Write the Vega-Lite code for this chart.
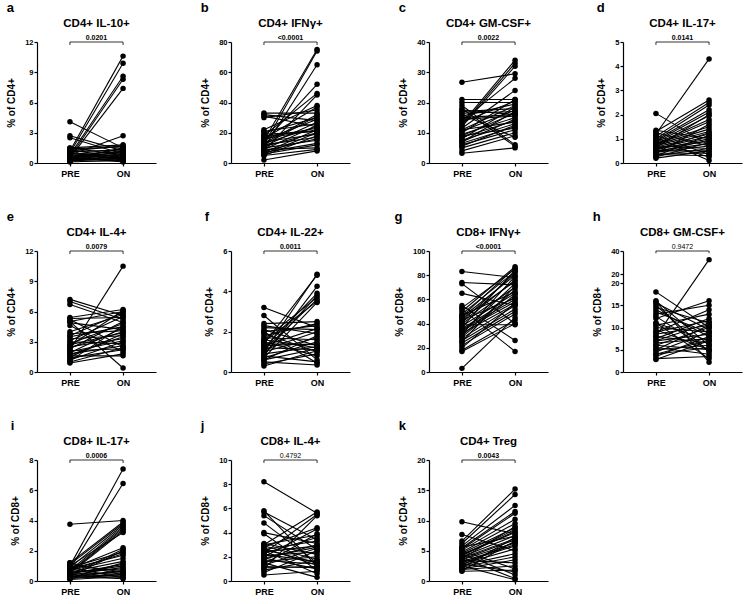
{
"$schema": "https://vega.github.io/schema/vega-lite/v6.json",
"padding": {"left": 6, "top": 1, "right": 2, "bottom": 0},
"columns": 4,
"spacing": {"row": 32, "column": 44},
"datasets": {
"a": [{"s":1,"t":"PRE","v":1.2},{"s":1,"t":"ON","v":10.6},{"s":2,"t":"PRE","v":1.0},{"s":2,"t":"ON","v":9.9},{"s":3,"t":"PRE","v":0.8},{"s":3,"t":"ON","v":8.6},{"s":4,"t":"PRE","v":0.6},{"s":4,"t":"ON","v":8.3},{"s":5,"t":"PRE","v":0.5},{"s":5,"t":"ON","v":7.4},{"s":6,"t":"PRE","v":4.1},{"s":6,"t":"ON","v":1.5},{"s":7,"t":"PRE","v":2.7},{"s":7,"t":"ON","v":1.2},{"s":8,"t":"PRE","v":2.5},{"s":8,"t":"ON","v":0.9},{"s":9,"t":"PRE","v":0.8},{"s":9,"t":"ON","v":2.7},{"s":10,"t":"PRE","v":1.5},{"s":10,"t":"ON","v":1.8},{"s":11,"t":"PRE","v":1.4},{"s":11,"t":"ON","v":1.6},{"s":12,"t":"PRE","v":1.3},{"s":12,"t":"ON","v":0.5},{"s":13,"t":"PRE","v":1.1},{"s":13,"t":"ON","v":1.3},{"s":14,"t":"PRE","v":1.0},{"s":14,"t":"ON","v":0.3},{"s":15,"t":"PRE","v":0.9},{"s":15,"t":"ON","v":1.1},{"s":16,"t":"PRE","v":0.9},{"s":16,"t":"ON","v":0.7},{"s":17,"t":"PRE","v":0.8},{"s":17,"t":"ON","v":0.4},{"s":18,"t":"PRE","v":0.7},{"s":18,"t":"ON","v":1.0},{"s":19,"t":"PRE","v":0.7},{"s":19,"t":"ON","v":0.6},{"s":20,"t":"PRE","v":0.6},{"s":20,"t":"ON","v":0.9},{"s":21,"t":"PRE","v":0.6},{"s":21,"t":"ON","v":0.2},{"s":22,"t":"PRE","v":0.5},{"s":22,"t":"ON","v":1.4},{"s":23,"t":"PRE","v":0.5},{"s":23,"t":"ON","v":0.5},{"s":24,"t":"PRE","v":0.4},{"s":24,"t":"ON","v":0.8},{"s":25,"t":"PRE","v":0.4},{"s":25,"t":"ON","v":0.3},{"s":26,"t":"PRE","v":0.3},{"s":26,"t":"ON","v":0.6},{"s":27,"t":"PRE","v":0.3},{"s":27,"t":"ON","v":1.2},{"s":28,"t":"PRE","v":0.3},{"s":28,"t":"ON","v":0.4},{"s":29,"t":"PRE","v":0.2},{"s":29,"t":"ON","v":0.7},{"s":30,"t":"PRE","v":0.2},{"s":30,"t":"ON","v":0.2},{"s":31,"t":"PRE","v":0.2},{"s":31,"t":"ON","v":0.5},{"s":32,"t":"PRE","v":0.1},{"s":32,"t":"ON","v":0.3},{"s":33,"t":"PRE","v":1.5},{"s":33,"t":"ON","v":0.8},{"s":34,"t":"PRE","v":1.2},{"s":34,"t":"ON","v":1.7},{"s":35,"t":"PRE","v":0.6},{"s":35,"t":"ON","v":0.1},{"s":36,"t":"PRE","v":0.4},{"s":36,"t":"ON","v":1.5}],
"b": [{"s":1,"t":"PRE","v":15},{"s":1,"t":"ON","v":75},{"s":2,"t":"PRE","v":12},{"s":2,"t":"ON","v":74},{"s":3,"t":"PRE","v":10},{"s":3,"t":"ON","v":65},{"s":4,"t":"PRE","v":14},{"s":4,"t":"ON","v":52},{"s":5,"t":"PRE","v":18},{"s":5,"t":"ON","v":46},{"s":6,"t":"PRE","v":8},{"s":6,"t":"ON","v":45},{"s":7,"t":"PRE","v":22},{"s":7,"t":"ON","v":38},{"s":8,"t":"PRE","v":16},{"s":8,"t":"ON","v":37},{"s":9,"t":"PRE","v":33},{"s":9,"t":"ON","v":33},{"s":10,"t":"PRE","v":32},{"s":10,"t":"ON","v":28},{"s":11,"t":"PRE","v":31},{"s":11,"t":"ON","v":24},{"s":12,"t":"PRE","v":30},{"s":12,"t":"ON","v":35},{"s":13,"t":"PRE","v":20},{"s":13,"t":"ON","v":30},{"s":14,"t":"PRE","v":13},{"s":14,"t":"ON","v":32},{"s":15,"t":"PRE","v":11},{"s":15,"t":"ON","v":27},{"s":16,"t":"PRE","v":9},{"s":16,"t":"ON","v":25},{"s":17,"t":"PRE","v":7},{"s":17,"t":"ON","v":22},{"s":18,"t":"PRE","v":6},{"s":18,"t":"ON","v":20},{"s":19,"t":"PRE","v":5},{"s":19,"t":"ON","v":18},{"s":20,"t":"PRE","v":2},{"s":20,"t":"ON","v":8},{"s":21,"t":"PRE","v":17},{"s":21,"t":"ON","v":23},{"s":22,"t":"PRE","v":19},{"s":22,"t":"ON","v":21},{"s":23,"t":"PRE","v":21},{"s":23,"t":"ON","v":26},{"s":24,"t":"PRE","v":12},{"s":24,"t":"ON","v":17},{"s":25,"t":"PRE","v":14},{"s":25,"t":"ON","v":19},{"s":26,"t":"PRE","v":10},{"s":26,"t":"ON","v":15},{"s":27,"t":"PRE","v":8},{"s":27,"t":"ON","v":16},{"s":28,"t":"PRE","v":6},{"s":28,"t":"ON","v":12},{"s":29,"t":"PRE","v":15},{"s":29,"t":"ON","v":29},{"s":30,"t":"PRE","v":9},{"s":30,"t":"ON","v":10},{"s":31,"t":"PRE","v":11},{"s":31,"t":"ON","v":20},{"s":32,"t":"PRE","v":13},{"s":32,"t":"ON","v":24},{"s":33,"t":"PRE","v":16},{"s":33,"t":"ON","v":22},{"s":34,"t":"PRE","v":7},{"s":34,"t":"ON","v":13},{"s":35,"t":"PRE","v":12},{"s":35,"t":"ON","v":31},{"s":36,"t":"PRE","v":18},{"s":36,"t":"ON","v":21},{"s":37,"t":"PRE","v":5},{"s":37,"t":"ON","v":9}],
"c": [{"s":1,"t":"PRE","v":26.7},{"s":1,"t":"ON","v":29.5},{"s":2,"t":"PRE","v":21},{"s":2,"t":"ON","v":21},{"s":3,"t":"PRE","v":20},{"s":3,"t":"ON","v":20},{"s":4,"t":"PRE","v":19},{"s":4,"t":"ON","v":6},{"s":5,"t":"PRE","v":18},{"s":5,"t":"ON","v":5.5},{"s":6,"t":"PRE","v":17},{"s":6,"t":"ON","v":18},{"s":7,"t":"PRE","v":16.5},{"s":7,"t":"ON","v":17},{"s":8,"t":"PRE","v":16},{"s":8,"t":"ON","v":8.5},{"s":9,"t":"PRE","v":15},{"s":9,"t":"ON","v":16},{"s":10,"t":"PRE","v":14},{"s":10,"t":"ON","v":28},{"s":11,"t":"PRE","v":13},{"s":11,"t":"ON","v":34},{"s":12,"t":"PRE","v":12.5},{"s":12,"t":"ON","v":33},{"s":13,"t":"PRE","v":12},{"s":13,"t":"ON","v":32},{"s":14,"t":"PRE","v":11.5},{"s":14,"t":"ON","v":24},{"s":15,"t":"PRE","v":11},{"s":15,"t":"ON","v":19},{"s":16,"t":"PRE","v":10.5},{"s":16,"t":"ON","v":17.5},{"s":17,"t":"PRE","v":10},{"s":17,"t":"ON","v":21},{"s":18,"t":"PRE","v":9.5},{"s":18,"t":"ON","v":15},{"s":19,"t":"PRE","v":9},{"s":19,"t":"ON","v":16.5},{"s":20,"t":"PRE","v":8.5},{"s":20,"t":"ON","v":14},{"s":21,"t":"PRE","v":8},{"s":21,"t":"ON","v":18.5},{"s":22,"t":"PRE","v":7.5},{"s":22,"t":"ON","v":13},{"s":23,"t":"PRE","v":7},{"s":23,"t":"ON","v":14.5},{"s":24,"t":"PRE","v":6.5},{"s":24,"t":"ON","v":12},{"s":25,"t":"PRE","v":6},{"s":25,"t":"ON","v":11},{"s":26,"t":"PRE","v":5.5},{"s":26,"t":"ON","v":12.5},{"s":27,"t":"PRE","v":5},{"s":27,"t":"ON","v":10},{"s":28,"t":"PRE","v":4},{"s":28,"t":"ON","v":9},{"s":29,"t":"PRE","v":3.2},{"s":29,"t":"ON","v":5},{"s":30,"t":"PRE","v":13.5},{"s":30,"t":"ON","v":20.5},{"s":31,"t":"PRE","v":15.5},{"s":31,"t":"ON","v":19.5},{"s":32,"t":"PRE","v":17.5},{"s":32,"t":"ON","v":16},{"s":33,"t":"PRE","v":14.5},{"s":33,"t":"ON","v":15.5},{"s":34,"t":"PRE","v":11},{"s":34,"t":"ON","v":13.5},{"s":35,"t":"PRE","v":9},{"s":35,"t":"ON","v":11.5},{"s":36,"t":"PRE","v":7},{"s":36,"t":"ON","v":17}],
"d": [{"s":1,"t":"PRE","v":1.2},{"s":1,"t":"ON","v":4.3},{"s":2,"t":"PRE","v":2.05},{"s":2,"t":"ON","v":0.75},{"s":3,"t":"PRE","v":1.35},{"s":3,"t":"ON","v":1.0},{"s":4,"t":"PRE","v":1.3},{"s":4,"t":"ON","v":2.6},{"s":5,"t":"PRE","v":1.1},{"s":5,"t":"ON","v":2.5},{"s":6,"t":"PRE","v":1.0},{"s":6,"t":"ON","v":2.4},{"s":7,"t":"PRE","v":0.95},{"s":7,"t":"ON","v":2.2},{"s":8,"t":"PRE","v":0.9},{"s":8,"t":"ON","v":2.1},{"s":9,"t":"PRE","v":0.85},{"s":9,"t":"ON","v":1.95},{"s":10,"t":"PRE","v":0.8},{"s":10,"t":"ON","v":1.8},{"s":11,"t":"PRE","v":0.8},{"s":11,"t":"ON","v":1.5},{"s":12,"t":"PRE","v":0.75},{"s":12,"t":"ON","v":1.4},{"s":13,"t":"PRE","v":0.7},{"s":13,"t":"ON","v":1.3},{"s":14,"t":"PRE","v":0.7},{"s":14,"t":"ON","v":0.6},{"s":15,"t":"PRE","v":0.65},{"s":15,"t":"ON","v":1.2},{"s":16,"t":"PRE","v":0.6},{"s":16,"t":"ON","v":1.1},{"s":17,"t":"PRE","v":0.6},{"s":17,"t":"ON","v":0.9},{"s":18,"t":"PRE","v":0.55},{"s":18,"t":"ON","v":1.0},{"s":19,"t":"PRE","v":0.5},{"s":19,"t":"ON","v":0.8},{"s":20,"t":"PRE","v":0.5},{"s":20,"t":"ON","v":0.5},{"s":21,"t":"PRE","v":0.45},{"s":21,"t":"ON","v":0.7},{"s":22,"t":"PRE","v":0.4},{"s":22,"t":"ON","v":1.6},{"s":23,"t":"PRE","v":0.4},{"s":23,"t":"ON","v":0.4},{"s":24,"t":"PRE","v":0.35},{"s":24,"t":"ON","v":0.3},{"s":25,"t":"PRE","v":0.3},{"s":25,"t":"ON","v":0.6},{"s":26,"t":"PRE","v":0.25},{"s":26,"t":"ON","v":0.85},{"s":27,"t":"PRE","v":0.2},{"s":27,"t":"ON","v":0.5},{"s":28,"t":"PRE","v":1.15},{"s":28,"t":"ON","v":0.35},{"s":29,"t":"PRE","v":1.05},{"s":29,"t":"ON","v":0.1},{"s":30,"t":"PRE","v":0.9},{"s":30,"t":"ON","v":0.25},{"s":31,"t":"PRE","v":0.75},{"s":31,"t":"ON","v":1.7},{"s":32,"t":"PRE","v":0.65},{"s":32,"t":"ON","v":2.0},{"s":33,"t":"PRE","v":0.55},{"s":33,"t":"ON","v":1.25},{"s":34,"t":"PRE","v":0.3},{"s":34,"t":"ON","v":1.15},{"s":35,"t":"PRE","v":1.25},{"s":35,"t":"ON","v":0.7},{"s":36,"t":"PRE","v":0.45},{"s":36,"t":"ON","v":0.95}],
"e": [{"s":1,"t":"PRE","v":2.2},{"s":1,"t":"ON","v":10.5},{"s":2,"t":"PRE","v":5.0},{"s":2,"t":"ON","v":0.4},{"s":3,"t":"PRE","v":7.2},{"s":3,"t":"ON","v":5.6},{"s":4,"t":"PRE","v":7.0},{"s":4,"t":"ON","v":5.2},{"s":5,"t":"PRE","v":6.7},{"s":5,"t":"ON","v":4.9},{"s":6,"t":"PRE","v":5.4},{"s":6,"t":"ON","v":6.2},{"s":7,"t":"PRE","v":5.3},{"s":7,"t":"ON","v":5.4},{"s":8,"t":"PRE","v":5.2},{"s":8,"t":"ON","v":2.5},{"s":9,"t":"PRE","v":5.0},{"s":9,"t":"ON","v":6.0},{"s":10,"t":"PRE","v":4.9},{"s":10,"t":"ON","v":4.2},{"s":11,"t":"PRE","v":4.6},{"s":11,"t":"ON","v":2.0},{"s":12,"t":"PRE","v":3.6},{"s":12,"t":"ON","v":5.9},{"s":13,"t":"PRE","v":3.5},{"s":13,"t":"ON","v":4.5},{"s":14,"t":"PRE","v":3.3},{"s":14,"t":"ON","v":3.6},{"s":15,"t":"PRE","v":3.1},{"s":15,"t":"ON","v":5.5},{"s":16,"t":"PRE","v":3.0},{"s":16,"t":"ON","v":2.8},{"s":17,"t":"PRE","v":2.8},{"s":17,"t":"ON","v":4.8},{"s":18,"t":"PRE","v":2.7},{"s":18,"t":"ON","v":3.9},{"s":19,"t":"PRE","v":2.6},{"s":19,"t":"ON","v":6.1},{"s":20,"t":"PRE","v":2.5},{"s":20,"t":"ON","v":3.3},{"s":21,"t":"PRE","v":2.4},{"s":21,"t":"ON","v":4.0},{"s":22,"t":"PRE","v":2.3},{"s":22,"t":"ON","v":5.0},{"s":23,"t":"PRE","v":2.1},{"s":23,"t":"ON","v":2.3},{"s":24,"t":"PRE","v":2.0},{"s":24,"t":"ON","v":3.1},{"s":25,"t":"PRE","v":1.9},{"s":25,"t":"ON","v":4.4},{"s":26,"t":"PRE","v":1.8},{"s":26,"t":"ON","v":2.6},{"s":27,"t":"PRE","v":1.7},{"s":27,"t":"ON","v":3.5},{"s":28,"t":"PRE","v":1.6},{"s":28,"t":"ON","v":1.6},{"s":29,"t":"PRE","v":1.5},{"s":29,"t":"ON","v":3.8},{"s":30,"t":"PRE","v":1.4},{"s":30,"t":"ON","v":2.2},{"s":31,"t":"PRE","v":1.2},{"s":31,"t":"ON","v":3.0},{"s":32,"t":"PRE","v":1.1},{"s":32,"t":"ON","v":4.6},{"s":33,"t":"PRE","v":1.0},{"s":33,"t":"ON","v":2.4},{"s":34,"t":"PRE","v":0.9},{"s":34,"t":"ON","v":1.8},{"s":35,"t":"PRE","v":4.0},{"s":35,"t":"ON","v":5.7},{"s":36,"t":"PRE","v":3.8},{"s":36,"t":"ON","v":4.1}],
"f": [{"s":1,"t":"PRE","v":1.0},{"s":1,"t":"ON","v":4.85},{"s":2,"t":"PRE","v":1.4},{"s":2,"t":"ON","v":4.8},{"s":3,"t":"PRE","v":0.8},{"s":3,"t":"ON","v":4.25},{"s":4,"t":"PRE","v":1.2},{"s":4,"t":"ON","v":3.9},{"s":5,"t":"PRE","v":0.9},{"s":5,"t":"ON","v":3.8},{"s":6,"t":"PRE","v":1.6},{"s":6,"t":"ON","v":3.7},{"s":7,"t":"PRE","v":1.1},{"s":7,"t":"ON","v":3.6},{"s":8,"t":"PRE","v":1.5},{"s":8,"t":"ON","v":3.5},{"s":9,"t":"PRE","v":0.7},{"s":9,"t":"ON","v":3.45},{"s":10,"t":"PRE","v":3.2},{"s":10,"t":"ON","v":2.2},{"s":11,"t":"PRE","v":2.8},{"s":11,"t":"ON","v":0.6},{"s":12,"t":"PRE","v":2.4},{"s":12,"t":"ON","v":2.5},{"s":13,"t":"PRE","v":2.3},{"s":13,"t":"ON","v":1.9},{"s":14,"t":"PRE","v":2.2},{"s":14,"t":"ON","v":2.1},{"s":15,"t":"PRE","v":2.1},{"s":15,"t":"ON","v":1.3},{"s":16,"t":"PRE","v":2.0},{"s":16,"t":"ON","v":2.3},{"s":17,"t":"PRE","v":1.9},{"s":17,"t":"ON","v":1.0},{"s":18,"t":"PRE","v":1.8},{"s":18,"t":"ON","v":2.4},{"s":19,"t":"PRE","v":1.7},{"s":19,"t":"ON","v":1.6},{"s":20,"t":"PRE","v":1.6},{"s":20,"t":"ON","v":1.2},{"s":21,"t":"PRE","v":1.5},{"s":21,"t":"ON","v":0.8},{"s":22,"t":"PRE","v":1.3},{"s":22,"t":"ON","v":1.4},{"s":23,"t":"PRE","v":1.2},{"s":23,"t":"ON","v":1.1},{"s":24,"t":"PRE","v":1.1},{"s":24,"t":"ON","v":2.0},{"s":25,"t":"PRE","v":1.0},{"s":25,"t":"ON","v":1.7},{"s":26,"t":"PRE","v":0.9},{"s":26,"t":"ON","v":1.25},{"s":27,"t":"PRE","v":0.8},{"s":27,"t":"ON","v":0.5},{"s":28,"t":"PRE","v":0.7},{"s":28,"t":"ON","v":1.5},{"s":29,"t":"PRE","v":0.6},{"s":29,"t":"ON","v":1.15},{"s":30,"t":"PRE","v":0.5},{"s":30,"t":"ON","v":0.35},{"s":31,"t":"PRE","v":0.4},{"s":31,"t":"ON","v":0.9},{"s":32,"t":"PRE","v":0.3},{"s":32,"t":"ON","v":1.05},{"s":33,"t":"PRE","v":1.3},{"s":33,"t":"ON","v":2.15},{"s":34,"t":"PRE","v":2.0},{"s":34,"t":"ON","v":0.45},{"s":35,"t":"PRE","v":0.6},{"s":35,"t":"ON","v":1.8},{"s":36,"t":"PRE","v":1.4},{"s":36,"t":"ON","v":1.35}],
"g": [{"s":1,"t":"PRE","v":83},{"s":1,"t":"ON","v":78},{"s":2,"t":"PRE","v":74},{"s":2,"t":"ON","v":72},{"s":3,"t":"PRE","v":73},{"s":3,"t":"ON","v":40},{"s":4,"t":"PRE","v":65},{"s":4,"t":"ON","v":55},{"s":5,"t":"PRE","v":55},{"s":5,"t":"ON","v":26},{"s":6,"t":"PRE","v":52},{"s":6,"t":"ON","v":17},{"s":7,"t":"PRE","v":3},{"s":7,"t":"ON","v":45},{"s":8,"t":"PRE","v":53},{"s":8,"t":"ON","v":85},{"s":9,"t":"PRE","v":50},{"s":9,"t":"ON","v":87},{"s":10,"t":"PRE","v":48},{"s":10,"t":"ON","v":83},{"s":11,"t":"PRE","v":46},{"s":11,"t":"ON","v":86},{"s":12,"t":"PRE","v":45},{"s":12,"t":"ON","v":80},{"s":13,"t":"PRE","v":44},{"s":13,"t":"ON","v":75},{"s":14,"t":"PRE","v":42},{"s":14,"t":"ON","v":82},{"s":15,"t":"PRE","v":40},{"s":15,"t":"ON","v":70},{"s":16,"t":"PRE","v":39},{"s":16,"t":"ON","v":39},{"s":17,"t":"PRE","v":38},{"s":17,"t":"ON","v":65},{"s":18,"t":"PRE","v":37},{"s":18,"t":"ON","v":84},{"s":19,"t":"PRE","v":36},{"s":19,"t":"ON","v":62},{"s":20,"t":"PRE","v":35},{"s":20,"t":"ON","v":60},{"s":21,"t":"PRE","v":34},{"s":21,"t":"ON","v":58},{"s":22,"t":"PRE","v":33},{"s":22,"t":"ON","v":73},{"s":23,"t":"PRE","v":32},{"s":23,"t":"ON","v":56},{"s":24,"t":"PRE","v":30},{"s":24,"t":"ON","v":68},{"s":25,"t":"PRE","v":29},{"s":25,"t":"ON","v":64},{"s":26,"t":"PRE","v":28},{"s":26,"t":"ON","v":55},{"s":27,"t":"PRE","v":26},{"s":27,"t":"ON","v":52},{"s":28,"t":"PRE","v":25},{"s":28,"t":"ON","v":71},{"s":29,"t":"PRE","v":24},{"s":29,"t":"ON","v":50},{"s":30,"t":"PRE","v":22},{"s":30,"t":"ON","v":48},{"s":31,"t":"PRE","v":20},{"s":31,"t":"ON","v":57},{"s":32,"t":"PRE","v":18},{"s":32,"t":"ON","v":43},{"s":33,"t":"PRE","v":17},{"s":33,"t":"ON","v":40},{"s":34,"t":"PRE","v":41},{"s":34,"t":"ON","v":76},{"s":35,"t":"PRE","v":47},{"s":35,"t":"ON","v":66},{"s":36,"t":"PRE","v":43},{"s":36,"t":"ON","v":61},{"s":37,"t":"PRE","v":31},{"s":37,"t":"ON","v":79}],
"h": [{"s":1,"t":"PRE","v":8},{"s":1,"t":"ON","v":32.5},{"s":2,"t":"PRE","v":18},{"s":2,"t":"ON","v":10},{"s":3,"t":"PRE","v":16},{"s":3,"t":"ON","v":6},{"s":4,"t":"PRE","v":15.5},{"s":4,"t":"ON","v":9.5},{"s":5,"t":"PRE","v":15},{"s":5,"t":"ON","v":4.5},{"s":6,"t":"PRE","v":14.5},{"s":6,"t":"ON","v":11},{"s":7,"t":"PRE","v":14},{"s":7,"t":"ON","v":8},{"s":8,"t":"PRE","v":13},{"s":8,"t":"ON","v":15},{"s":9,"t":"PRE","v":12},{"s":9,"t":"ON","v":16},{"s":10,"t":"PRE","v":11},{"s":10,"t":"ON","v":7},{"s":11,"t":"PRE","v":10.5},{"s":11,"t":"ON","v":13},{"s":12,"t":"PRE","v":10},{"s":12,"t":"ON","v":9},{"s":13,"t":"PRE","v":9.5},{"s":13,"t":"ON","v":5},{"s":14,"t":"PRE","v":9},{"s":14,"t":"ON","v":11.5},{"s":15,"t":"PRE","v":8.5},{"s":15,"t":"ON","v":10.5},{"s":16,"t":"PRE","v":8},{"s":16,"t":"ON","v":6.5},{"s":17,"t":"PRE","v":7.5},{"s":17,"t":"ON","v":12},{"s":18,"t":"PRE","v":7},{"s":18,"t":"ON","v":8.5},{"s":19,"t":"PRE","v":6.5},{"s":19,"t":"ON","v":7.5},{"s":20,"t":"PRE","v":6},{"s":20,"t":"ON","v":10},{"s":21,"t":"PRE","v":5.5},{"s":21,"t":"ON","v":4},{"s":22,"t":"PRE","v":5},{"s":22,"t":"ON","v":6},{"s":23,"t":"PRE","v":4.5},{"s":23,"t":"ON","v":9},{"s":24,"t":"PRE","v":4},{"s":24,"t":"ON","v":5.5},{"s":25,"t":"PRE","v":3.5},{"s":25,"t":"ON","v":8},{"s":26,"t":"PRE","v":3},{"s":26,"t":"ON","v":3.5},{"s":27,"t":"PRE","v":2.8},{"s":27,"t":"ON","v":7},{"s":28,"t":"PRE","v":15.8},{"s":28,"t":"ON","v":2.2},{"s":29,"t":"PRE","v":12.5},{"s":29,"t":"ON","v":4.8},{"s":30,"t":"PRE","v":11},{"s":30,"t":"ON","v":3},{"s":31,"t":"PRE","v":9},{"s":31,"t":"ON","v":14},{"s":32,"t":"PRE","v":7},{"s":32,"t":"ON","v":11},{"s":33,"t":"PRE","v":6},{"s":33,"t":"ON","v":5},{"s":34,"t":"PRE","v":5},{"s":34,"t":"ON","v":10.5},{"s":35,"t":"PRE","v":4},{"s":35,"t":"ON","v":7.2},{"s":36,"t":"PRE","v":13.5},{"s":36,"t":"ON","v":8.8}],
"i": [{"s":1,"t":"PRE","v":3.75},{"s":1,"t":"ON","v":4.0},{"s":2,"t":"PRE","v":1.0},{"s":2,"t":"ON","v":7.4},{"s":3,"t":"PRE","v":0.8},{"s":3,"t":"ON","v":6.45},{"s":4,"t":"PRE","v":1.2},{"s":4,"t":"ON","v":3.9},{"s":5,"t":"PRE","v":1.1},{"s":5,"t":"ON","v":3.8},{"s":6,"t":"PRE","v":0.9},{"s":6,"t":"ON","v":3.7},{"s":7,"t":"PRE","v":0.7},{"s":7,"t":"ON","v":3.6},{"s":8,"t":"PRE","v":0.6},{"s":8,"t":"ON","v":3.5},{"s":9,"t":"PRE","v":0.5},{"s":9,"t":"ON","v":3.3},{"s":10,"t":"PRE","v":1.0},{"s":10,"t":"ON","v":3.2},{"s":11,"t":"PRE","v":0.4},{"s":11,"t":"ON","v":2.1},{"s":12,"t":"PRE","v":0.3},{"s":12,"t":"ON","v":2.0},{"s":13,"t":"PRE","v":0.9},{"s":13,"t":"ON","v":1.9},{"s":14,"t":"PRE","v":0.8},{"s":14,"t":"ON","v":1.7},{"s":15,"t":"PRE","v":0.7},{"s":15,"t":"ON","v":1.5},{"s":16,"t":"PRE","v":0.6},{"s":16,"t":"ON","v":1.3},{"s":17,"t":"PRE","v":0.5},{"s":17,"t":"ON","v":1.1},{"s":18,"t":"PRE","v":0.4},{"s":18,"t":"ON","v":0.9},{"s":19,"t":"PRE","v":0.3},{"s":19,"t":"ON","v":0.7},{"s":20,"t":"PRE","v":0.2},{"s":20,"t":"ON","v":0.5},{"s":21,"t":"PRE","v":0.1},{"s":21,"t":"ON","v":0.3},{"s":22,"t":"PRE","v":1.1},{"s":22,"t":"ON","v":0.6},{"s":23,"t":"PRE","v":1.2},{"s":23,"t":"ON","v":0.4},{"s":24,"t":"PRE","v":0.9},{"s":24,"t":"ON","v":0.2},{"s":25,"t":"PRE","v":0.6},{"s":25,"t":"ON","v":0.8},{"s":26,"t":"PRE","v":0.5},{"s":26,"t":"ON","v":1.0},{"s":27,"t":"PRE","v":0.4},{"s":27,"t":"ON","v":0.35},{"s":28,"t":"PRE","v":0.3},{"s":28,"t":"ON","v":0.15},{"s":29,"t":"PRE","v":0.2},{"s":29,"t":"ON","v":1.2},{"s":30,"t":"PRE","v":0.15},{"s":30,"t":"ON","v":0.45},{"s":31,"t":"PRE","v":0.8},{"s":31,"t":"ON","v":2.2},{"s":32,"t":"PRE","v":0.7},{"s":32,"t":"ON","v":1.8},{"s":33,"t":"PRE","v":0.45},{"s":33,"t":"ON","v":0.55},{"s":34,"t":"PRE","v":0.35},{"s":34,"t":"ON","v":0.25},{"s":35,"t":"PRE","v":0.25},{"s":35,"t":"ON","v":0.65},{"s":36,"t":"PRE","v":0.55},{"s":36,"t":"ON","v":3.4}],
"j": [{"s":1,"t":"PRE","v":8.2},{"s":1,"t":"ON","v":5.6},{"s":2,"t":"PRE","v":5.8},{"s":2,"t":"ON","v":1.2},{"s":3,"t":"PRE","v":5.7},{"s":3,"t":"ON","v":3.4},{"s":4,"t":"PRE","v":5.4},{"s":4,"t":"ON","v":2.6},{"s":5,"t":"PRE","v":4.8},{"s":5,"t":"ON","v":1.5},{"s":6,"t":"PRE","v":4.0},{"s":6,"t":"ON","v":3.1},{"s":7,"t":"PRE","v":3.9},{"s":7,"t":"ON","v":0.9},{"s":8,"t":"PRE","v":3.1},{"s":8,"t":"ON","v":2.2},{"s":9,"t":"PRE","v":3.0},{"s":9,"t":"ON","v":5.7},{"s":10,"t":"PRE","v":2.9},{"s":10,"t":"ON","v":1.8},{"s":11,"t":"PRE","v":2.8},{"s":11,"t":"ON","v":4.4},{"s":12,"t":"PRE","v":2.7},{"s":12,"t":"ON","v":1.3},{"s":13,"t":"PRE","v":2.6},{"s":13,"t":"ON","v":3.3},{"s":14,"t":"PRE","v":2.5},{"s":14,"t":"ON","v":0.6},{"s":15,"t":"PRE","v":2.4},{"s":15,"t":"ON","v":2.9},{"s":16,"t":"PRE","v":2.3},{"s":16,"t":"ON","v":5.5},{"s":17,"t":"PRE","v":2.2},{"s":17,"t":"ON","v":1.6},{"s":18,"t":"PRE","v":2.1},{"s":18,"t":"ON","v":2.4},{"s":19,"t":"PRE","v":2.0},{"s":19,"t":"ON","v":4.3},{"s":20,"t":"PRE","v":1.9},{"s":20,"t":"ON","v":1.0},{"s":21,"t":"PRE","v":1.8},{"s":21,"t":"ON","v":3.0},{"s":22,"t":"PRE","v":1.7},{"s":22,"t":"ON","v":1.4},{"s":23,"t":"PRE","v":1.6},{"s":23,"t":"ON","v":2.0},{"s":24,"t":"PRE","v":1.5},{"s":24,"t":"ON","v":0.3},{"s":25,"t":"PRE","v":1.4},{"s":25,"t":"ON","v":3.9},{"s":26,"t":"PRE","v":1.3},{"s":26,"t":"ON","v":2.7},{"s":27,"t":"PRE","v":1.2},{"s":27,"t":"ON","v":1.1},{"s":28,"t":"PRE","v":1.0},{"s":28,"t":"ON","v":5.4},{"s":29,"t":"PRE","v":0.9},{"s":29,"t":"ON","v":1.7},{"s":30,"t":"PRE","v":0.7},{"s":30,"t":"ON","v":2.5},{"s":31,"t":"PRE","v":0.5},{"s":31,"t":"ON","v":0.8},{"s":32,"t":"PRE","v":2.3},{"s":32,"t":"ON","v":3.6},{"s":33,"t":"PRE","v":1.9},{"s":33,"t":"ON","v":2.8},{"s":34,"t":"PRE","v":1.1},{"s":34,"t":"ON","v":1.2},{"s":35,"t":"PRE","v":2.6},{"s":35,"t":"ON","v":1.5},{"s":36,"t":"PRE","v":3.0},{"s":36,"t":"ON","v":3.8}],
"k": [{"s":1,"t":"PRE","v":9.8},{"s":1,"t":"ON","v":7.8},{"s":2,"t":"PRE","v":7.7},{"s":2,"t":"ON","v":5.0},{"s":3,"t":"PRE","v":6.6},{"s":3,"t":"ON","v":15.2},{"s":4,"t":"PRE","v":6.2},{"s":4,"t":"ON","v":14.3},{"s":5,"t":"PRE","v":5.8},{"s":5,"t":"ON","v":12.5},{"s":6,"t":"PRE","v":5.5},{"s":6,"t":"ON","v":11.5},{"s":7,"t":"PRE","v":5.3},{"s":7,"t":"ON","v":11.2},{"s":8,"t":"PRE","v":5.1},{"s":8,"t":"ON","v":10.2},{"s":9,"t":"PRE","v":5.0},{"s":9,"t":"ON","v":2.0},{"s":10,"t":"PRE","v":4.8},{"s":10,"t":"ON","v":9.5},{"s":11,"t":"PRE","v":4.6},{"s":11,"t":"ON","v":8.8},{"s":12,"t":"PRE","v":4.5},{"s":12,"t":"ON","v":1.0},{"s":13,"t":"PRE","v":4.3},{"s":13,"t":"ON","v":8.5},{"s":14,"t":"PRE","v":4.2},{"s":14,"t":"ON","v":8.2},{"s":15,"t":"PRE","v":4.0},{"s":15,"t":"ON","v":7.5},{"s":16,"t":"PRE","v":3.9},{"s":16,"t":"ON","v":0.4},{"s":17,"t":"PRE","v":3.8},{"s":17,"t":"ON","v":7.0},{"s":18,"t":"PRE","v":3.6},{"s":18,"t":"ON","v":6.8},{"s":19,"t":"PRE","v":3.5},{"s":19,"t":"ON","v":6.3},{"s":20,"t":"PRE","v":3.4},{"s":20,"t":"ON","v":3.0},{"s":21,"t":"PRE","v":3.2},{"s":21,"t":"ON","v":6.0},{"s":22,"t":"PRE","v":3.0},{"s":22,"t":"ON","v":5.8},{"s":23,"t":"PRE","v":2.9},{"s":23,"t":"ON","v":1.5},{"s":24,"t":"PRE","v":2.8},{"s":24,"t":"ON","v":5.3},{"s":25,"t":"PRE","v":2.6},{"s":25,"t":"ON","v":4.5},{"s":26,"t":"PRE","v":2.5},{"s":26,"t":"ON","v":0.2},{"s":27,"t":"PRE","v":2.3},{"s":27,"t":"ON","v":4.0},{"s":28,"t":"PRE","v":2.2},{"s":28,"t":"ON","v":7.2},{"s":29,"t":"PRE","v":2.0},{"s":29,"t":"ON","v":3.5},{"s":30,"t":"PRE","v":1.9},{"s":30,"t":"ON","v":2.5},{"s":31,"t":"PRE","v":1.7},{"s":31,"t":"ON","v":6.6},{"s":32,"t":"PRE","v":1.6},{"s":32,"t":"ON","v":1.8},{"s":33,"t":"PRE","v":4.4},{"s":33,"t":"ON","v":8.0},{"s":34,"t":"PRE","v":3.7},{"s":34,"t":"ON","v":9.0},{"s":35,"t":"PRE","v":2.7},{"s":35,"t":"ON","v":6.5},{"s":36,"t":"PRE","v":5.6},{"s":36,"t":"ON","v":7.4}]
},
"concat": [
{"title": {"text": "a", "fontSize": 13, "fontWeight": "bold", "anchor": "start", "frame": "bounds", "offset": 3, "color": "black"}, "vconcat": [{"title": "CD4+ IL-10+", "width": 119, "height": 121, "layer": [
 {"data": {"name": "a"}, "mark": {"type": "line", "color": "black", "strokeWidth": 1.1}, "encoding": {"x": {"field": "t", "type": "ordinal", "scale": {"type": "point", "padding": 0.62, "domain": ["PRE", "ON"]}, "axis": {"title": null}}, "y": {"field": "v", "type": "quantitative", "scale": {"domain": [0, 12], "nice": false}, "axis": {"values": [0, 3, 6, 9, 12], "tickCount": 20, "format": "d", "title": "% of CD4+"}}, "detail": {"field": "s"}}},
 {"data": {"name": "a"}, "mark": {"type": "circle", "color": "black", "size": 30, "opacity": 1}, "encoding": {"x": {"field": "t", "type": "ordinal"}, "y": {"field": "v", "type": "quantitative"}}},
 {"data": {"values": [{}]}, "mark": {"type": "rule", "color": "black", "strokeWidth": 0.8}, "encoding": {"x": {"datum": "PRE"}, "x2": {"datum": "ON"}, "y": {"datum": 12}}},
 {"data": {"values": [{"t": "PRE"}, {"t": "ON"}]}, "mark": {"type": "rule", "color": "black", "strokeWidth": 0.8}, "encoding": {"x": {"field": "t", "type": "ordinal"}, "y": {"datum": 12}, "y2": {"datum": 11.7}}},
 {"data": {"values": [{"p": "0.0201"}]}, "mark": {"type": "text", "fontSize": 7, "fontWeight": "bold", "baseline": "bottom", "dy": -1, "dx": 26.5}, "encoding": {"x": {"datum": "PRE"}, "y": {"datum": 12}, "text": {"field": "p"}}}
]}]},
{"title": {"text": "b", "fontSize": 13, "fontWeight": "bold", "anchor": "start", "frame": "bounds", "offset": 3, "color": "black"}, "vconcat": [{"title": "CD4+ IFNγ+", "width": 119, "height": 121, "layer": [
 {"data": {"name": "b"}, "mark": {"type": "line", "color": "black", "strokeWidth": 1.1}, "encoding": {"x": {"field": "t", "type": "ordinal", "scale": {"type": "point", "padding": 0.62, "domain": ["PRE", "ON"]}, "axis": {"title": null}}, "y": {"field": "v", "type": "quantitative", "scale": {"domain": [0, 80], "nice": false}, "axis": {"values": [0, 20, 40, 60, 80], "tickCount": 20, "format": "d", "title": "% of CD4+"}}, "detail": {"field": "s"}}},
 {"data": {"name": "b"}, "mark": {"type": "circle", "color": "black", "size": 30, "opacity": 1}, "encoding": {"x": {"field": "t", "type": "ordinal"}, "y": {"field": "v", "type": "quantitative"}}},
 {"data": {"values": [{}]}, "mark": {"type": "rule", "color": "black", "strokeWidth": 0.8}, "encoding": {"x": {"datum": "PRE"}, "x2": {"datum": "ON"}, "y": {"datum": 80}}},
 {"data": {"values": [{"t": "PRE"}, {"t": "ON"}]}, "mark": {"type": "rule", "color": "black", "strokeWidth": 0.8}, "encoding": {"x": {"field": "t", "type": "ordinal"}, "y": {"datum": 80}, "y2": {"datum": 78}}},
 {"data": {"values": [{"p": "<0.0001"}]}, "mark": {"type": "text", "fontSize": 7, "fontWeight": "bold", "baseline": "bottom", "dy": -1, "dx": 26.5}, "encoding": {"x": {"datum": "PRE"}, "y": {"datum": 80}, "text": {"field": "p"}}}
]}]},
{"title": {"text": "c", "fontSize": 13, "fontWeight": "bold", "anchor": "start", "frame": "bounds", "offset": 3, "color": "black"}, "vconcat": [{"title": "CD4+ GM-CSF+", "width": 119, "height": 121, "layer": [
 {"data": {"name": "c"}, "mark": {"type": "line", "color": "black", "strokeWidth": 1.1}, "encoding": {"x": {"field": "t", "type": "ordinal", "scale": {"type": "point", "padding": 0.62, "domain": ["PRE", "ON"]}, "axis": {"title": null}}, "y": {"field": "v", "type": "quantitative", "scale": {"domain": [0, 40], "nice": false}, "axis": {"values": [0, 10, 20, 30, 40], "tickCount": 20, "format": "d", "title": "% of CD4+"}}, "detail": {"field": "s"}}},
 {"data": {"name": "c"}, "mark": {"type": "circle", "color": "black", "size": 30, "opacity": 1}, "encoding": {"x": {"field": "t", "type": "ordinal"}, "y": {"field": "v", "type": "quantitative"}}},
 {"data": {"values": [{}]}, "mark": {"type": "rule", "color": "black", "strokeWidth": 0.8}, "encoding": {"x": {"datum": "PRE"}, "x2": {"datum": "ON"}, "y": {"datum": 40}}},
 {"data": {"values": [{"t": "PRE"}, {"t": "ON"}]}, "mark": {"type": "rule", "color": "black", "strokeWidth": 0.8}, "encoding": {"x": {"field": "t", "type": "ordinal"}, "y": {"datum": 40}, "y2": {"datum": 39}}},
 {"data": {"values": [{"p": "0.0022"}]}, "mark": {"type": "text", "fontSize": 7, "fontWeight": "bold", "baseline": "bottom", "dy": -1, "dx": 26.5}, "encoding": {"x": {"datum": "PRE"}, "y": {"datum": 40}, "text": {"field": "p"}}}
]}]},
{"title": {"text": "d", "fontSize": 13, "fontWeight": "bold", "anchor": "start", "frame": "bounds", "offset": 3, "color": "black"}, "vconcat": [{"title": "CD4+ IL-17+", "width": 119, "height": 121, "layer": [
 {"data": {"name": "d"}, "mark": {"type": "line", "color": "black", "strokeWidth": 1.1}, "encoding": {"x": {"field": "t", "type": "ordinal", "scale": {"type": "point", "padding": 0.62, "domain": ["PRE", "ON"]}, "axis": {"title": null}}, "y": {"field": "v", "type": "quantitative", "scale": {"domain": [0, 5], "nice": false}, "axis": {"values": [0, 1, 2, 3, 4, 5], "tickCount": 20, "format": "d", "title": "% of CD4+"}}, "detail": {"field": "s"}}},
 {"data": {"name": "d"}, "mark": {"type": "circle", "color": "black", "size": 30, "opacity": 1}, "encoding": {"x": {"field": "t", "type": "ordinal"}, "y": {"field": "v", "type": "quantitative"}}},
 {"data": {"values": [{}]}, "mark": {"type": "rule", "color": "black", "strokeWidth": 0.8}, "encoding": {"x": {"datum": "PRE"}, "x2": {"datum": "ON"}, "y": {"datum": 5}}},
 {"data": {"values": [{"t": "PRE"}, {"t": "ON"}]}, "mark": {"type": "rule", "color": "black", "strokeWidth": 0.8}, "encoding": {"x": {"field": "t", "type": "ordinal"}, "y": {"datum": 5}, "y2": {"datum": 4.88}}},
 {"data": {"values": [{"p": "0.0141"}]}, "mark": {"type": "text", "fontSize": 7, "fontWeight": "bold", "baseline": "bottom", "dy": -1, "dx": 26.5}, "encoding": {"x": {"datum": "PRE"}, "y": {"datum": 5}, "text": {"field": "p"}}}
]}]},
{"title": {"text": "e", "fontSize": 13, "fontWeight": "bold", "anchor": "start", "frame": "bounds", "offset": 3, "color": "black"}, "vconcat": [{"title": "CD4+ IL-4+", "width": 119, "height": 121, "layer": [
 {"data": {"name": "e"}, "mark": {"type": "line", "color": "black", "strokeWidth": 1.1}, "encoding": {"x": {"field": "t", "type": "ordinal", "scale": {"type": "point", "padding": 0.62, "domain": ["PRE", "ON"]}, "axis": {"title": null}}, "y": {"field": "v", "type": "quantitative", "scale": {"domain": [0, 12], "nice": false}, "axis": {"values": [0, 3, 6, 9, 12], "tickCount": 20, "format": "d", "title": "% of CD4+"}}, "detail": {"field": "s"}}},
 {"data": {"name": "e"}, "mark": {"type": "circle", "color": "black", "size": 30, "opacity": 1}, "encoding": {"x": {"field": "t", "type": "ordinal"}, "y": {"field": "v", "type": "quantitative"}}},
 {"data": {"values": [{}]}, "mark": {"type": "rule", "color": "black", "strokeWidth": 0.8}, "encoding": {"x": {"datum": "PRE"}, "x2": {"datum": "ON"}, "y": {"datum": 12}}},
 {"data": {"values": [{"t": "PRE"}, {"t": "ON"}]}, "mark": {"type": "rule", "color": "black", "strokeWidth": 0.8}, "encoding": {"x": {"field": "t", "type": "ordinal"}, "y": {"datum": 12}, "y2": {"datum": 11.7}}},
 {"data": {"values": [{"p": "0.0079"}]}, "mark": {"type": "text", "fontSize": 7, "fontWeight": "bold", "baseline": "bottom", "dy": -1, "dx": 26.5}, "encoding": {"x": {"datum": "PRE"}, "y": {"datum": 12}, "text": {"field": "p"}}}
]}]},
{"title": {"text": "f", "fontSize": 13, "fontWeight": "bold", "anchor": "start", "frame": "bounds", "offset": 3, "color": "black"}, "vconcat": [{"title": "CD4+ IL-22+", "width": 119, "height": 121, "layer": [
 {"data": {"name": "f"}, "mark": {"type": "line", "color": "black", "strokeWidth": 1.1}, "encoding": {"x": {"field": "t", "type": "ordinal", "scale": {"type": "point", "padding": 0.62, "domain": ["PRE", "ON"]}, "axis": {"title": null}}, "y": {"field": "v", "type": "quantitative", "scale": {"domain": [0, 6], "nice": false}, "axis": {"values": [0, 2, 4, 6], "tickCount": 20, "format": "d", "title": "% of CD4+"}}, "detail": {"field": "s"}}},
 {"data": {"name": "f"}, "mark": {"type": "circle", "color": "black", "size": 30, "opacity": 1}, "encoding": {"x": {"field": "t", "type": "ordinal"}, "y": {"field": "v", "type": "quantitative"}}},
 {"data": {"values": [{}]}, "mark": {"type": "rule", "color": "black", "strokeWidth": 0.8}, "encoding": {"x": {"datum": "PRE"}, "x2": {"datum": "ON"}, "y": {"datum": 6}}},
 {"data": {"values": [{"t": "PRE"}, {"t": "ON"}]}, "mark": {"type": "rule", "color": "black", "strokeWidth": 0.8}, "encoding": {"x": {"field": "t", "type": "ordinal"}, "y": {"datum": 6}, "y2": {"datum": 5.85}}},
 {"data": {"values": [{"p": "0.0011"}]}, "mark": {"type": "text", "fontSize": 7, "fontWeight": "bold", "baseline": "bottom", "dy": -1, "dx": 26.5}, "encoding": {"x": {"datum": "PRE"}, "y": {"datum": 6}, "text": {"field": "p"}}}
]}]},
{"title": {"text": "g", "fontSize": 13, "fontWeight": "bold", "anchor": "start", "frame": "bounds", "offset": 3, "color": "black"}, "vconcat": [{"title": "CD8+ IFNγ+", "width": 119, "height": 121, "layer": [
 {"data": {"name": "g"}, "mark": {"type": "line", "color": "black", "strokeWidth": 1.1}, "encoding": {"x": {"field": "t", "type": "ordinal", "scale": {"type": "point", "padding": 0.62, "domain": ["PRE", "ON"]}, "axis": {"title": null}}, "y": {"field": "v", "type": "quantitative", "scale": {"domain": [0, 100], "nice": false}, "axis": {"values": [0, 20, 40, 60, 80, 100], "tickCount": 20, "format": "d", "title": "% of CD8+"}}, "detail": {"field": "s"}}},
 {"data": {"name": "g"}, "mark": {"type": "circle", "color": "black", "size": 30, "opacity": 1}, "encoding": {"x": {"field": "t", "type": "ordinal"}, "y": {"field": "v", "type": "quantitative"}}},
 {"data": {"values": [{}]}, "mark": {"type": "rule", "color": "black", "strokeWidth": 0.8}, "encoding": {"x": {"datum": "PRE"}, "x2": {"datum": "ON"}, "y": {"datum": 100}}},
 {"data": {"values": [{"t": "PRE"}, {"t": "ON"}]}, "mark": {"type": "rule", "color": "black", "strokeWidth": 0.8}, "encoding": {"x": {"field": "t", "type": "ordinal"}, "y": {"datum": 100}, "y2": {"datum": 97.5}}},
 {"data": {"values": [{"p": "<0.0001"}]}, "mark": {"type": "text", "fontSize": 7, "fontWeight": "bold", "baseline": "bottom", "dy": -1, "dx": 26.5}, "encoding": {"x": {"datum": "PRE"}, "y": {"datum": 100}, "text": {"field": "p"}}}
]}]},
{"title": {"text": "h", "fontSize": 13, "fontWeight": "bold", "anchor": "start", "frame": "bounds", "offset": 3, "color": "black"}, "vconcat": [{"title": "CD8+ GM-CSF+", "width": 119, "height": 121, "layer": [
 {"data": {"name": "h"}, "mark": {"type": "line", "color": "black", "strokeWidth": 1.1}, "encoding": {"x": {"field": "t", "type": "ordinal", "scale": {"type": "point", "padding": 0.62, "domain": ["PRE", "ON"]}, "axis": {"title": null}}, "y": {"field": "v", "type": "quantitative", "scale": {"domain": [0, 20, 20.01, 40], "range": [121, 32, 23, 0], "nice": false, "zero": false}, "axis": {"values": [0, 5, 10, 15, 20, 20.01, 40], "tickCount": 20, "format": ".0f", "title": "% of CD8+"}}, "detail": {"field": "s"}}},
 {"data": {"name": "h"}, "mark": {"type": "circle", "color": "black", "size": 30, "opacity": 1}, "encoding": {"x": {"field": "t", "type": "ordinal"}, "y": {"field": "v", "type": "quantitative"}}},
 {"data": {"values": [{}]}, "mark": {"type": "rule", "color": "black", "strokeWidth": 0.8}, "encoding": {"x": {"datum": "PRE"}, "x2": {"datum": "ON"}, "y": {"datum": 40}}},
 {"data": {"values": [{"t": "PRE"}, {"t": "ON"}]}, "mark": {"type": "rule", "color": "black", "strokeWidth": 0.8}, "encoding": {"x": {"field": "t", "type": "ordinal"}, "y": {"datum": 40}, "y2": {"datum": 38}}},
 {"data": {"values": [{"p": "0.9472"}]}, "mark": {"type": "text", "fontSize": 7, "fontWeight": "normal", "baseline": "bottom", "dy": -1, "dx": 26.5}, "encoding": {"x": {"datum": "PRE"}, "y": {"datum": 40}, "text": {"field": "p"}}}
]}]},
{"title": {"text": "i", "fontSize": 13, "fontWeight": "bold", "anchor": "start", "frame": "bounds", "offset": 3, "color": "black"}, "vconcat": [{"title": "CD8+ IL-17+", "width": 119, "height": 121, "layer": [
 {"data": {"name": "i"}, "mark": {"type": "line", "color": "black", "strokeWidth": 1.1}, "encoding": {"x": {"field": "t", "type": "ordinal", "scale": {"type": "point", "padding": 0.62, "domain": ["PRE", "ON"]}, "axis": {"title": null}}, "y": {"field": "v", "type": "quantitative", "scale": {"domain": [0, 8], "nice": false}, "axis": {"values": [0, 2, 4, 6, 8], "tickCount": 20, "format": "d", "title": "% of CD8+"}}, "detail": {"field": "s"}}},
 {"data": {"name": "i"}, "mark": {"type": "circle", "color": "black", "size": 30, "opacity": 1}, "encoding": {"x": {"field": "t", "type": "ordinal"}, "y": {"field": "v", "type": "quantitative"}}},
 {"data": {"values": [{}]}, "mark": {"type": "rule", "color": "black", "strokeWidth": 0.8}, "encoding": {"x": {"datum": "PRE"}, "x2": {"datum": "ON"}, "y": {"datum": 8}}},
 {"data": {"values": [{"t": "PRE"}, {"t": "ON"}]}, "mark": {"type": "rule", "color": "black", "strokeWidth": 0.8}, "encoding": {"x": {"field": "t", "type": "ordinal"}, "y": {"datum": 8}, "y2": {"datum": 7.8}}},
 {"data": {"values": [{"p": "0.0006"}]}, "mark": {"type": "text", "fontSize": 7, "fontWeight": "bold", "baseline": "bottom", "dy": -1, "dx": 26.5}, "encoding": {"x": {"datum": "PRE"}, "y": {"datum": 8}, "text": {"field": "p"}}}
]}]},
{"title": {"text": "j", "fontSize": 13, "fontWeight": "bold", "anchor": "start", "frame": "bounds", "offset": 3, "color": "black"}, "vconcat": [{"title": "CD8+ IL-4+", "width": 119, "height": 121, "layer": [
 {"data": {"name": "j"}, "mark": {"type": "line", "color": "black", "strokeWidth": 1.1}, "encoding": {"x": {"field": "t", "type": "ordinal", "scale": {"type": "point", "padding": 0.62, "domain": ["PRE", "ON"]}, "axis": {"title": null}}, "y": {"field": "v", "type": "quantitative", "scale": {"domain": [0, 10], "nice": false}, "axis": {"values": [0, 2, 4, 6, 8, 10], "tickCount": 20, "format": "d", "title": "% of CD8+"}}, "detail": {"field": "s"}}},
 {"data": {"name": "j"}, "mark": {"type": "circle", "color": "black", "size": 30, "opacity": 1}, "encoding": {"x": {"field": "t", "type": "ordinal"}, "y": {"field": "v", "type": "quantitative"}}},
 {"data": {"values": [{}]}, "mark": {"type": "rule", "color": "black", "strokeWidth": 0.8}, "encoding": {"x": {"datum": "PRE"}, "x2": {"datum": "ON"}, "y": {"datum": 10}}},
 {"data": {"values": [{"t": "PRE"}, {"t": "ON"}]}, "mark": {"type": "rule", "color": "black", "strokeWidth": 0.8}, "encoding": {"x": {"field": "t", "type": "ordinal"}, "y": {"datum": 10}, "y2": {"datum": 9.75}}},
 {"data": {"values": [{"p": "0.4792"}]}, "mark": {"type": "text", "fontSize": 7, "fontWeight": "normal", "baseline": "bottom", "dy": -1, "dx": 26.5}, "encoding": {"x": {"datum": "PRE"}, "y": {"datum": 10}, "text": {"field": "p"}}}
]}]},
{"title": {"text": "k", "fontSize": 13, "fontWeight": "bold", "anchor": "start", "frame": "bounds", "offset": 3, "color": "black"}, "vconcat": [{"title": "CD4+ Treg", "width": 119, "height": 121, "layer": [
 {"data": {"name": "k"}, "mark": {"type": "line", "color": "black", "strokeWidth": 1.1}, "encoding": {"x": {"field": "t", "type": "ordinal", "scale": {"type": "point", "padding": 0.62, "domain": ["PRE", "ON"]}, "axis": {"title": null}}, "y": {"field": "v", "type": "quantitative", "scale": {"domain": [0, 20], "nice": false}, "axis": {"values": [0, 5, 10, 15, 20], "tickCount": 20, "format": "d", "title": "% of CD4+"}}, "detail": {"field": "s"}}},
 {"data": {"name": "k"}, "mark": {"type": "circle", "color": "black", "size": 30, "opacity": 1}, "encoding": {"x": {"field": "t", "type": "ordinal"}, "y": {"field": "v", "type": "quantitative"}}},
 {"data": {"values": [{}]}, "mark": {"type": "rule", "color": "black", "strokeWidth": 0.8}, "encoding": {"x": {"datum": "PRE"}, "x2": {"datum": "ON"}, "y": {"datum": 20}}},
 {"data": {"values": [{"t": "PRE"}, {"t": "ON"}]}, "mark": {"type": "rule", "color": "black", "strokeWidth": 0.8}, "encoding": {"x": {"field": "t", "type": "ordinal"}, "y": {"datum": 20}, "y2": {"datum": 19.5}}},
 {"data": {"values": [{"p": "0.0043"}]}, "mark": {"type": "text", "fontSize": 7, "fontWeight": "bold", "baseline": "bottom", "dy": -1, "dx": 26.5}, "encoding": {"x": {"datum": "PRE"}, "y": {"datum": 20}, "text": {"field": "p"}}}
]}]}
],
"config": {
 "font": "Liberation Sans",
 "view": {"stroke": null},
 "axis": {"grid": false, "domainColor": "black", "tickColor": "black", "labelColor": "black", "titleColor": "black", "labelFontWeight": "bold", "labelFontSize": 7.5, "titleFontSize": 10, "titleFontWeight": "bold", "tickSize": 3, "domainWidth": 1.2, "tickWidth": 1.2, "labelPadding": 1, "titlePadding": 8, "labelOverlap": false},
 "axisX": {"labelFontSize": 9, "labelAngle": 0, "labelPadding": 3},
 "title": {"fontSize": 11.5, "fontWeight": "bold", "color": "black", "anchor": "middle", "frame": "group", "offset": 5}
}
}
